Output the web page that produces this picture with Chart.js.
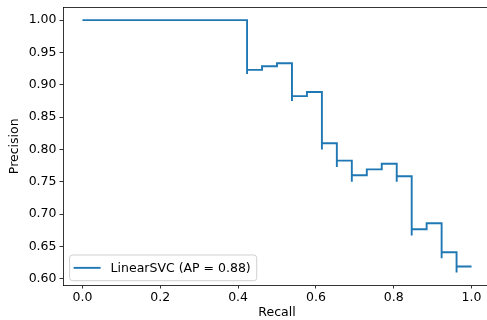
<!DOCTYPE html>
<html lang="en">
<head>
  <meta charset="UTF-8" />
  <title>Precision-Recall curve</title>
  <script src="https://cdn.jsdelivr.net/npm/chart.js"></script>
  <style>
    html, body {
      margin: 0;
      padding: 0;
      background: #fff;
      overflow: hidden;
      width: 487px;
      height: 320px;
    }
    #pr {
      display: block;
    }
  </style>
</head>
<body>
  <canvas id="pr" width="491" height="320"></canvas>

  <script>
    // recall / precision (increasing recall)
    const recall = [
      0.0, 0.4231, 0.4231, 0.4615, 0.5, 0.5385, 0.5385, 0.5769, 0.6154, 0.6154,
      0.6538, 0.6538, 0.6923, 0.6923, 0.7308, 0.7692, 0.8077, 0.8077, 0.8462, 0.8462,
      0.8846, 0.9231, 0.9231, 0.9615, 0.9615, 1.0
    ];
    const precision = [
      1.0, 1.0, 0.9167, 0.9231, 0.9286, 0.9333, 0.875, 0.8824, 0.8889, 0.8,
      0.8095, 0.7727, 0.7826, 0.75, 0.76, 0.7692, 0.7778, 0.75, 0.7586, 0.6667,
      0.6765, 0.6857, 0.6316, 0.641, 0.6098, 0.619
    ];
    const seriesLabel = 'LinearSVC (AP = 0.88)';
    const xTicks = [0.0, 0.2, 0.4, 0.6, 0.8, 1.0];
    const yTicks = [0.60, 0.65, 0.70, 0.75, 0.80, 0.85, 0.90, 0.95, 1.00];

    const FONT = "'DejaVu Sans', sans-serif";
    Chart.defaults.font.family = FONT;
    Chart.defaults.font.size = 12.5;
    Chart.defaults.color = '#000';

    const points = recall.map((r, i) => ({ x: r, y: precision[i] }));

    // top spine (matplotlib draws a full box)
    const frame = {
      id: 'frame',
      afterDraw(chart) {
        const { ctx, chartArea: a } = chart;
        ctx.save();
        ctx.strokeStyle = '#000';
        ctx.lineWidth = 0.8;
        ctx.beginPath();
        ctx.moveTo(a.left, a.top);
        ctx.lineTo(a.right, a.top);
        ctx.lineTo(a.right, a.bottom);
        ctx.stroke();
        ctx.restore();
      }
    };

    // matplotlib style legend, lower left inside the axes
    const boxLegend = {
      id: 'boxLegend',
      afterDraw(chart) {
        const { ctx, chartArea: a } = chart;
        const ds = chart.data.datasets[0];
        ctx.save();
        ctx.font = '12.5px ' + FONT;
        const tw = ctx.measureText(ds.label).width;
        const x = a.left + 6.6, h = 25.7;
        const y = a.bottom - 4.3 - h;
        const w = 4 + 27 + 10 + tw + 6;
        ctx.beginPath();
        ctx.roundRect(x, y, w, h, 3);
        ctx.fillStyle = 'rgba(255,255,255,0.8)';
        ctx.fill();
        ctx.strokeStyle = '#d0d0d0';
        ctx.lineWidth = 1;
        ctx.stroke();
        ctx.beginPath();
        ctx.moveTo(x + 4, y + h / 2);
        ctx.lineTo(x + 31, y + h / 2);
        ctx.strokeStyle = ds.borderColor;
        ctx.lineWidth = ds.borderWidth;
        ctx.stroke();
        ctx.fillStyle = '#000';
        ctx.textBaseline = 'middle';
        ctx.fillText(ds.label, x + 41, y + h / 2 + 0.5);
        ctx.restore();
      }
    };

    new Chart(document.getElementById('pr'), {
      type: 'scatter',
      data: {
        datasets: [{
          label: seriesLabel,
          data: points,
          showLine: true,
          stepped: 'after',
          borderColor: '#1f77b4',
          backgroundColor: '#1f77b4',
          borderWidth: 1.9,
          pointRadius: 0,
          fill: false
        }]
      },
      options: {
        responsive: false,
        animation: false,
        layout: { padding: { top: 7.5, right: 0, left: 0, bottom: 0 } },
        plugins: {
          legend: { display: false },
          tooltip: { enabled: false }
        },
        scales: {
          x: {
            type: 'linear',
            min: -0.05,
            max: 1.05,
            afterBuildTicks: s => { s.ticks = xTicks.map(v => ({ value: v })); },
            afterFit: s => { s.height = 35; s.paddingLeft = 0; s.paddingRight = 0; },
            ticks: {
              padding: 2,
              maxRotation: 0,
              autoSkip: false,
              callback: v => v.toFixed(1)
            },
            grid: {
              drawOnChartArea: false,
              drawTicks: true,
              tickLength: 3.5,
              tickWidth: 0.8,
              tickColor: '#000'
            },
            border: { display: true, color: '#000', width: 0.8 },
            title: {
              display: true,
              text: 'Recall',
              padding: { top: 1, bottom: 0 }
            }
          },
          y: {
            type: 'linear',
            min: 0.5903,
            max: 1.0195,
            afterBuildTicks: s => { s.ticks = yTicks.map(v => ({ value: v })); },
            afterFit: s => { s.width = 63; s.paddingTop = 0; s.paddingBottom = 0; },
            ticks: {
              padding: 3,
              autoSkip: false,
              callback: v => v.toFixed(2)
            },
            grid: {
              drawOnChartArea: false,
              drawTicks: true,
              tickLength: 3.5,
              tickWidth: 0.8,
              tickColor: '#000'
            },
            border: { display: true, color: '#000', width: 0.8 },
            title: {
              display: true,
              text: 'Precision',
              padding: { top: 7, bottom: 0 }
            }
          }
        }
      },
      plugins: [frame, boxLegend]
    });
  </script>
</body>
</html>
